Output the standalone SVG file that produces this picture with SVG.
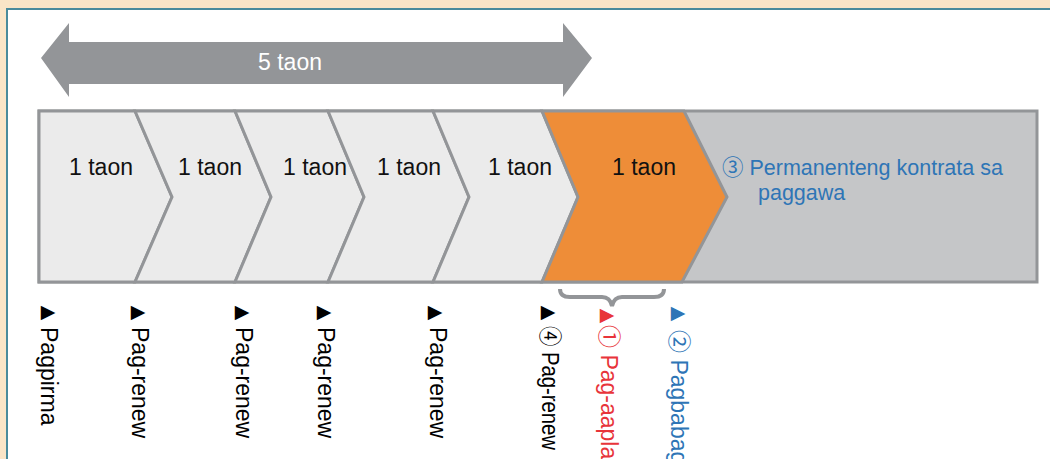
<svg xmlns="http://www.w3.org/2000/svg" width="1050" height="459" viewBox="0 0 1050 459">
  <style>
    .lbl { font-family: "Liberation Sans", "DejaVu Sans", sans-serif; }
    .cjk { font-family: "Noto Sans CJK JP", "DejaVu Sans", sans-serif; }
    .year { font-size: 23px; fill: #111; text-anchor: middle; }
    .seg { stroke: #939598; stroke-width: 3; stroke-linejoin: miter; }
    .light { fill: #EBEBEB; }
    .vert { font-size: 23px; }
    .tri { font-family: "DejaVu Sans", sans-serif; font-size: 19px; text-anchor: middle; }
  </style>

  <!-- page background and panel -->
  <rect x="0" y="0" width="1050" height="459" fill="#FAE5C7"/>
  <rect x="7" y="9" width="1050" height="460" fill="#FFFFFF" stroke="#4A8B9C" stroke-width="2"/>

  <!-- five-year span arrow -->
  <g id="span">
    <polygon points="41,58 69,23 69,42 563,42 563,23 592,58 563,97 563,84 69,84 69,97" fill="#939598"/>
    <text class="lbl" x="290" y="70" font-size="23" fill="#FFFFFF" text-anchor="middle">5 taon</text>
  </g>

  <!-- timeline bar -->
  <g id="bar">
    <rect class="seg" x="39" y="111" width="998" height="171" fill="#C5C6C8"/>
  </g>
  <g id="year1">
    <polygon class="seg light" points="39,111 135,111 172,197 135,282 39,282"/>
    <text class="lbl year" x="101" y="175">1 taon</text>
  </g>
  <g id="year2">
    <polygon class="seg light" points="135,111 235,111 271,197 235,282 135,282 172,197"/>
    <text class="lbl year" x="210" y="175">1 taon</text>
  </g>
  <g id="year3">
    <polygon class="seg light" points="235,111 328,111 364,197 328,282 235,282 271,197"/>
    <text class="lbl year" x="315" y="175">1 taon</text>
  </g>
  <g id="year4">
    <polygon class="seg light" points="328,111 433,111 469,197 433,282 328,282 364,197"/>
    <text class="lbl year" x="409" y="175">1 taon</text>
  </g>
  <g id="year5">
    <polygon class="seg light" points="433,111 542,111 578,197 542,282 433,282 469,197"/>
    <text class="lbl year" x="520" y="175">1 taon</text>
  </g>
  <g id="year6">
    <polygon class="seg" fill="#EE8D38" points="542,111 684,111 727,197 682,282 542,282 578,197"/>
    <text class="lbl year" x="644" y="175">1 taon</text>
  </g>
  <g id="permanent">
    <text class="lbl" font-size="21.5" fill="#2E75B6">
      <tspan x="722" y="175"><tspan class="cjk">③</tspan> Permanenteng kontrata sa</tspan>
      <tspan x="758" y="200">paggawa</tspan>
    </text>
  </g>

  <!-- brace over the sixth year -->
  <g id="connectors">
    <path d="M560,289 Q560,297 570,297 L602,297 Q610,297 612,306 Q614,297 622,297 L654,297 Q664,297 664,289" fill="none" stroke="#939598" stroke-width="4"/>
  </g>

  <!-- event labels -->
  <g id="ev-sign">
    <text class="tri" x="48" y="318" fill="#000">▶</text>
    <text class="lbl vert" transform="translate(41,327) rotate(90)" fill="#000">Pagpirma</text>
  </g>
  <g id="ev-renew1">
    <text class="tri" x="138" y="318" fill="#000">▶</text>
    <text class="lbl vert" transform="translate(132,327) rotate(90)" fill="#000">Pag-renew</text>
  </g>
  <g id="ev-renew2">
    <text class="tri" x="242" y="318" fill="#000">▶</text>
    <text class="lbl vert" transform="translate(236,327) rotate(90)" fill="#000">Pag-renew</text>
  </g>
  <g id="ev-renew3">
    <text class="tri" x="324" y="318" fill="#000">▶</text>
    <text class="lbl vert" transform="translate(318,327) rotate(90)" fill="#000">Pag-renew</text>
  </g>
  <g id="ev-renew4">
    <text class="tri" x="435" y="318" fill="#000">▶</text>
    <text class="lbl vert" transform="translate(430,327) rotate(90)" fill="#000">Pag-renew</text>
  </g>
  <g id="ev-renew5">
    <text class="tri" x="548" y="318" fill="#000">▶</text>
    <text class="lbl vert" transform="translate(542,326) rotate(90)" font-size="21" textLength="124" lengthAdjust="spacingAndGlyphs" fill="#000"><tspan class="cjk">④</tspan> Pag-renew</text>
  </g>
  <g id="ev-apply">
    <text class="tri" x="607" y="321" fill="#E8343A">▶</text>
    <text class="lbl vert" transform="translate(601,325) rotate(90)" fill="#E8343A"><tspan class="cjk">①</tspan> Pag-aaplay</text>
  </g>
  <g id="ev-change">
    <text class="tri" x="678" y="319" fill="#2E75B6">▶</text>
    <text class="lbl vert" transform="translate(671,330) rotate(90)" fill="#2E75B6"><tspan class="cjk">②</tspan> Pagbabago</text>
  </g>
</svg>
